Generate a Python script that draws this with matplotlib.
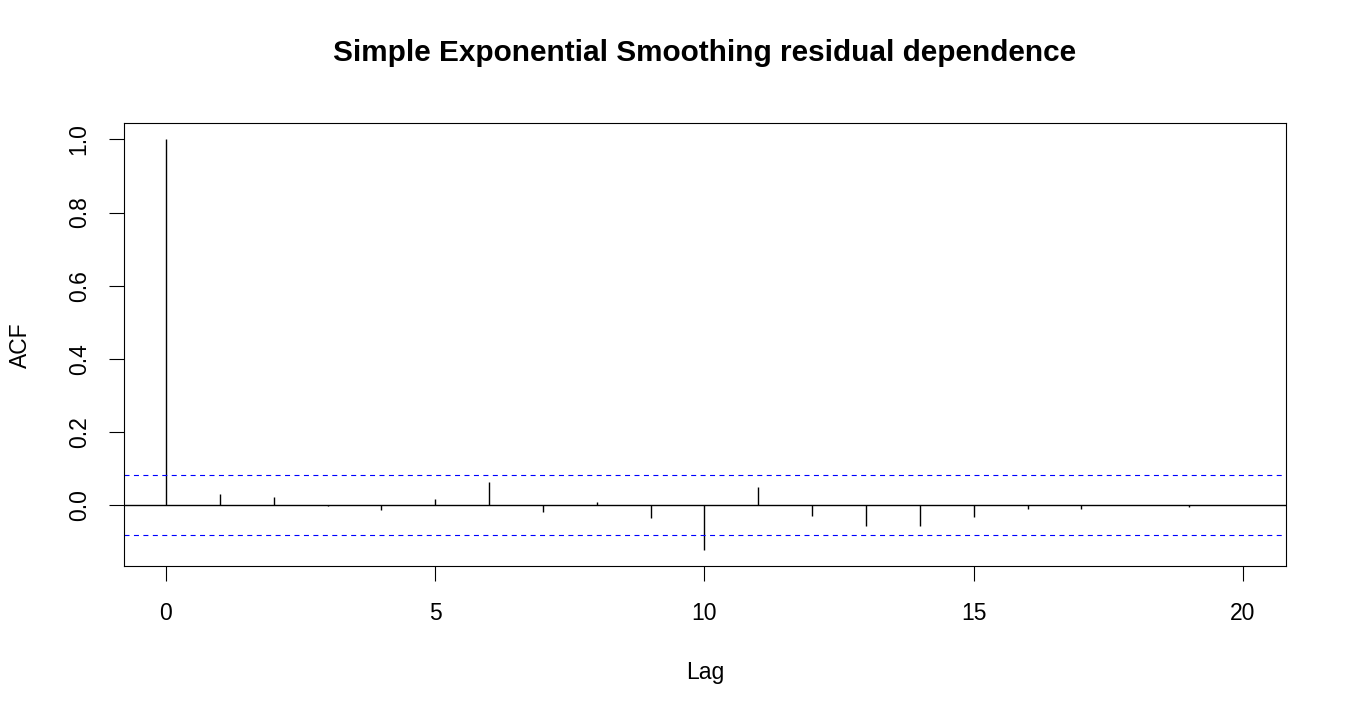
import numpy as np
import matplotlib
matplotlib.use('Agg')
import matplotlib.pyplot as plt

plt.rcParams['font.family'] = ['Liberation Sans', 'DejaVu Sans']

# residual autocorrelations
lags = np.arange(0, 21)
acf_values = [1.0, 0.030, 0.022, -0.004, -0.014, 0.017, 0.064, -0.019, 0.007, -0.036,
              -0.123, 0.050, -0.030, -0.058, -0.058, -0.033, -0.011, -0.011, 0.001, -0.006, 0.0]
ci_bound = 0.082
x_ticks = [0, 5, 10, 15, 20]
y_ticks = [0.0, 0.2, 0.4, 0.6, 0.8, 1.0]

fig = plt.figure(figsize=(13.5, 7.2), dpi=100)
ax = fig.add_axes([124 / 1350, 1 - 566 / 720, (1286 - 124) / 1350, (566 - 123) / 720])

ax.vlines(lags, 0, acf_values, colors='black', linewidth=1.0)
ax.axhline(0, color='black', linewidth=1.0)
ax.axhline(ci_bound, color='blue', linewidth=0.8, linestyle=(0, (4.5, 4)))
ax.axhline(-ci_bound, color='blue', linewidth=0.8, linestyle=(0, (4.5, 4)))

ax.set_xlim(-0.78, 20.8)
ax.set_ylim(-0.167, 1.045)
ax.set_xticks(x_ticks)
ax.set_xticklabels([str(t) for t in x_ticks])
ax.set_yticks(y_ticks)
ax.set_yticklabels(['%.1f' % t for t in y_ticks])
plt.setp(ax.get_yticklabels(), rotation=90, va='center')

ax.tick_params(axis='both', direction='out', length=11, width=0.8, labelsize=16.5, color='black')
ax.tick_params(axis='x', pad=15)
ax.tick_params(axis='y', pad=13)
for sp in ax.spines.values():
    sp.set_linewidth(0.8)

fig.text(705 / 1350, 1 - 53 / 720, 'Simple Exponential Smoothing residual dependence',
         ha='center', va='center', fontsize=21.4, fontweight='bold')
fig.text(705 / 1350, 1 - 673 / 720, 'Lag', ha='center', va='center', fontsize=16.5)
fig.text(20 / 1350, 1 - 345 / 720, 'ACF', ha='center', va='center', fontsize=16.5, rotation=90)

fig.savefig('out.png', dpi=100)
